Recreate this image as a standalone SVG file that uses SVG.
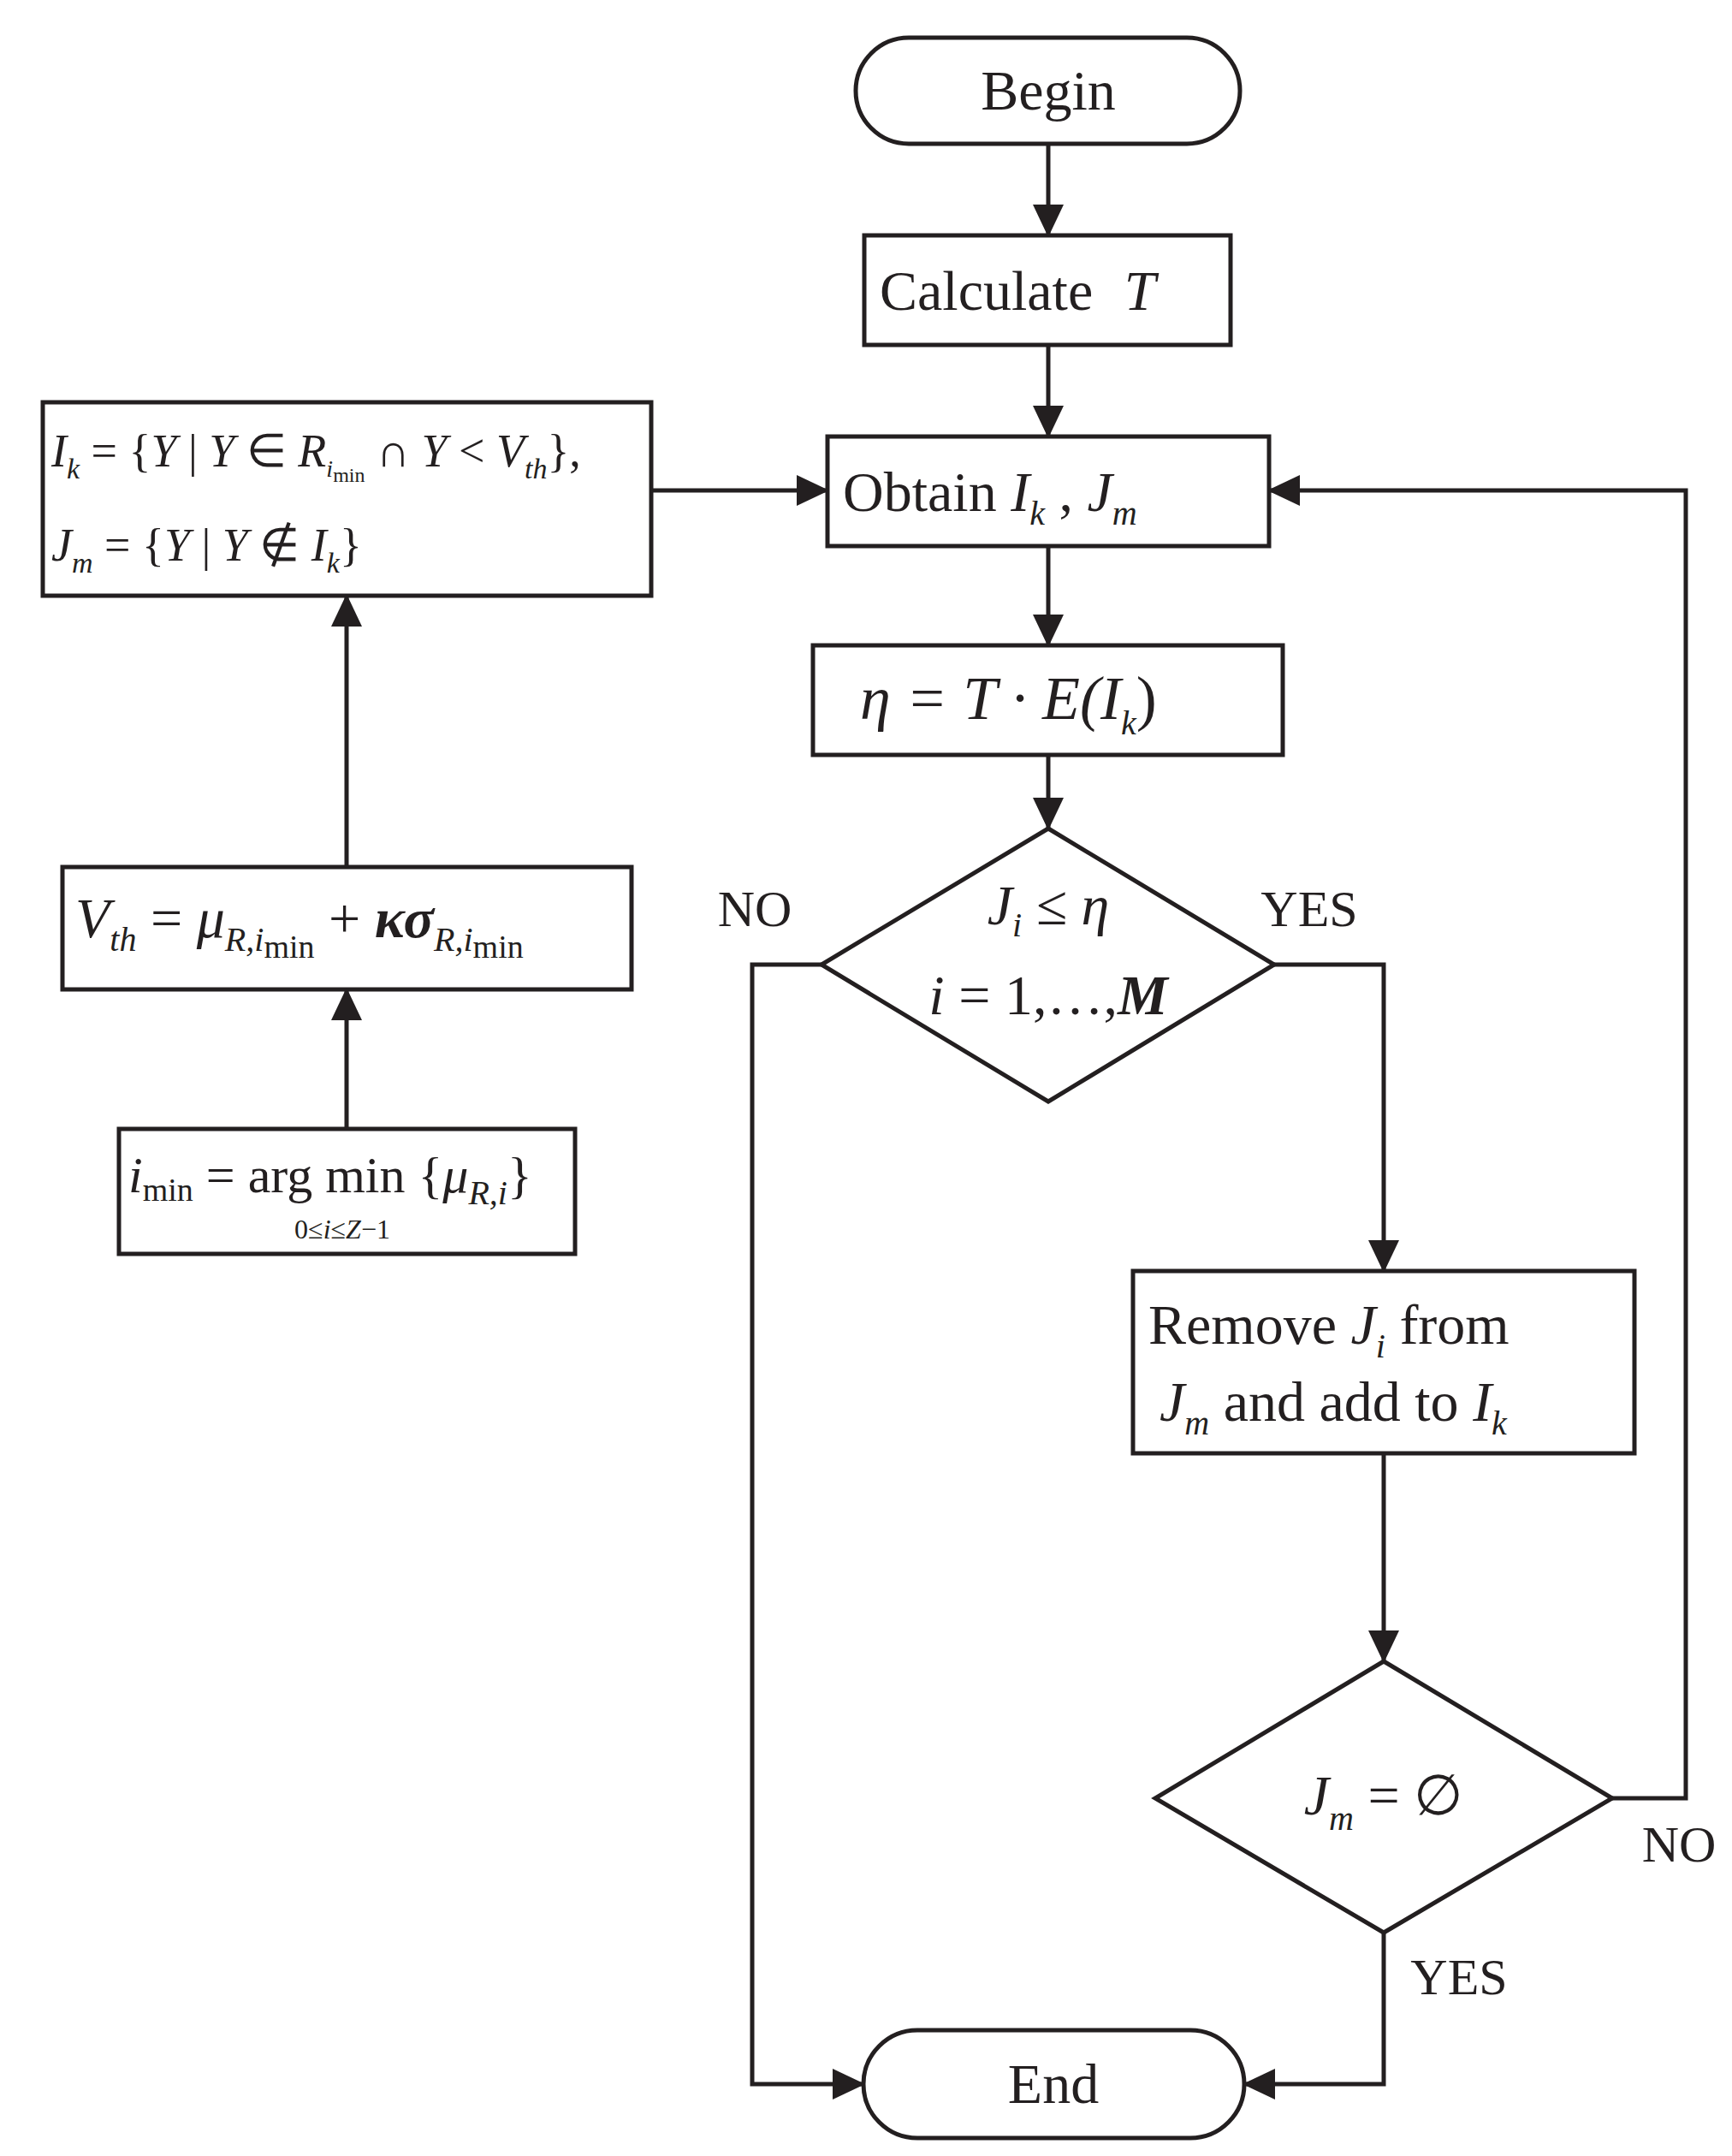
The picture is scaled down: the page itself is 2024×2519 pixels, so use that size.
<svg xmlns="http://www.w3.org/2000/svg" width="2024" height="2519" viewBox="0 0 2024 2519">
<style>
.s{fill:#fff;stroke:#231f20;stroke-width:5}
.c{fill:none;stroke:#231f20;stroke-width:5}
text{font-family:"Liberation Serif","Times New Roman",serif;fill:#231f20;font-size:66px}
.i{font-style:italic}
.sb{font-size:40px;font-style:italic}
.sn{font-size:38px}
.t{font-size:40px}
</style>
<defs><marker id="a" markerWidth="38" markerHeight="36" refX="36" refY="18" orient="auto" markerUnits="userSpaceOnUse"><path d="M0,0L38,18L0,36z" fill="#231f20"/></marker></defs>
<rect width="2024" height="2519" fill="#fff"/>
<g id="begin"><rect class="s" x="1000" y="44" width="449" height="124" rx="62"/><text x="1225" y="128" text-anchor="middle">Begin</text></g>
<g id="calc"><rect class="s" x="1010" y="275" width="428" height="128"/><text x="1028" y="362">Calculate <tspan class="i" dx="20">T</tspan></text></g>
<g id="obtain"><rect class="s" x="967" y="510" width="516" height="128"/><text x="985" y="597">Obtain <tspan class="i">I</tspan><tspan class="sb" dy="16">k</tspan><tspan dy="-16"> , </tspan><tspan class="i">J</tspan><tspan class="sb" dy="16">m</tspan></text></g>
<g id="eta"><rect class="s" x="950" y="754" width="549" height="128"/><text x="1005" y="840" class="i" style="font-size:72px">η = T · E(I<tspan class="sb" dy="18">k</tspan><tspan dy="-18" font-style="normal">)</tspan></text></g>
<g id="d1"><path class="s" d="M1225,968L1489,1127L1225,1287L960,1127z"/><text x="1225" y="1080" text-anchor="middle" class="i">J<tspan class="sb" dy="14">i</tspan><tspan dy="-14"> ≤ η</tspan></text><text x="1225" y="1185" text-anchor="middle"><tspan class="i">i</tspan> = 1,…,<tspan class="i" font-weight="bold">M</tspan></text></g>
<g id="remove"><rect class="s" x="1324" y="1485" width="586" height="213"/><text x="1342" y="1570">Remove <tspan class="i">J</tspan><tspan class="sb" dy="16">i</tspan><tspan dy="-16"> from</tspan></text><text x="1355" y="1660"><tspan class="i">J</tspan><tspan class="sb" dy="16">m</tspan><tspan dy="-16"> and add to </tspan><tspan class="i">I</tspan><tspan class="sb" dy="16">k</tspan></text></g>
<g id="d2"><path class="s" d="M1617,1941L1884,2101L1617,2258L1350,2101z"/><text x="1617" y="2120" text-anchor="middle"><tspan class="i">J</tspan><tspan class="sb" dy="18">m</tspan><tspan dy="-18"> = ∅</tspan></text></g>
<g id="end"><rect class="s" x="1009" y="2372" width="445" height="126" rx="63"/><text x="1231" y="2457" text-anchor="middle">End</text></g>
<g id="ik"><rect class="s" x="50" y="470" width="711" height="226"/><text x="60" y="545" style="font-size:54px"><tspan class="i">I</tspan><tspan class="sb" dy="14" style="font-size:34px">k</tspan><tspan dy="-14"> = {</tspan><tspan class="i">Y</tspan> | <tspan class="i">Y</tspan> ∈ <tspan class="i">R</tspan><tspan class="i" dy="12" style="font-size:28px">i</tspan><tspan dy="6" style="font-size:24px">min</tspan><tspan dy="-18"> ∩ </tspan><tspan class="i">Y</tspan> &lt; <tspan class="i">V</tspan><tspan class="i" dy="14" style="font-size:34px">th</tspan><tspan dy="-14">},</tspan></text><text x="60" y="655" style="font-size:54px"><tspan class="i">J</tspan><tspan class="i" dy="14" style="font-size:34px">m</tspan><tspan dy="-14"> = {</tspan><tspan class="i">Y</tspan> | <tspan class="i">Y</tspan> ∉ <tspan class="i">I</tspan><tspan class="i" dy="14" style="font-size:34px">k</tspan><tspan dy="-14">}</tspan></text></g>
<g id="vth"><rect class="s" x="73" y="1013" width="665" height="143"/><text x="88" y="1095"><tspan class="i">V</tspan><tspan class="sb" dy="16">th</tspan><tspan dy="-16"> = </tspan><tspan class="i">μ</tspan><tspan class="sb" dy="16">R,i</tspan><tspan class="sn" dy="8">min</tspan><tspan dy="-24"> + </tspan><tspan class="i" font-weight="bold">κσ</tspan><tspan class="sb" dy="16">R,i</tspan><tspan class="sn" dy="8">min</tspan></text></g>
<g id="imin"><rect class="s" x="139" y="1319" width="533" height="146"/><text x="150" y="1393" style="font-size:60px"><tspan class="i">i</tspan><tspan class="sn" dy="10">min</tspan><tspan dy="-10"> = arg min {</tspan><tspan class="i">μ</tspan><tspan class="sb" dy="14">R,i</tspan><tspan dy="-14">}</tspan></text><text x="400" y="1447" text-anchor="middle" style="font-size:32px">0≤<tspan font-style="italic">i</tspan>≤<tspan font-style="italic">Z</tspan>−1</text></g>
<g id="connectors">
<path class="c" marker-end="url(#a)" d="M1225,168V275"/>
<path class="c" marker-end="url(#a)" d="M1225,403V510"/>
<path class="c" marker-end="url(#a)" d="M1225,638V754"/>
<path class="c" marker-end="url(#a)" d="M1225,882V968"/>
<path class="c" marker-end="url(#a)" d="M1489,1127H1617V1485"/>
<path class="c" marker-end="url(#a)" d="M1617,1698V1941"/>
<path class="c" marker-end="url(#a)" d="M1884,2101H1970V573H1483"/>
<path class="c" marker-end="url(#a)" d="M1617,2258V2435H1454"/>
<path class="c" marker-end="url(#a)" d="M960,1127H879V2435H1009"/>
<path class="c" marker-end="url(#a)" d="M761,573H967"/>
<path class="c" marker-end="url(#a)" d="M405,1319V1156"/>
<path class="c" marker-end="url(#a)" d="M405,1013V696"/>
<text x="882" y="1082" text-anchor="middle" style="font-size:60px">NO</text>
<text x="1530" y="1082" text-anchor="middle" style="font-size:60px">YES</text>
<text x="1962" y="2175" text-anchor="middle" style="font-size:60px">NO</text>
<text x="1705" y="2330" text-anchor="middle" style="font-size:60px">YES</text>
</g>
</svg>
